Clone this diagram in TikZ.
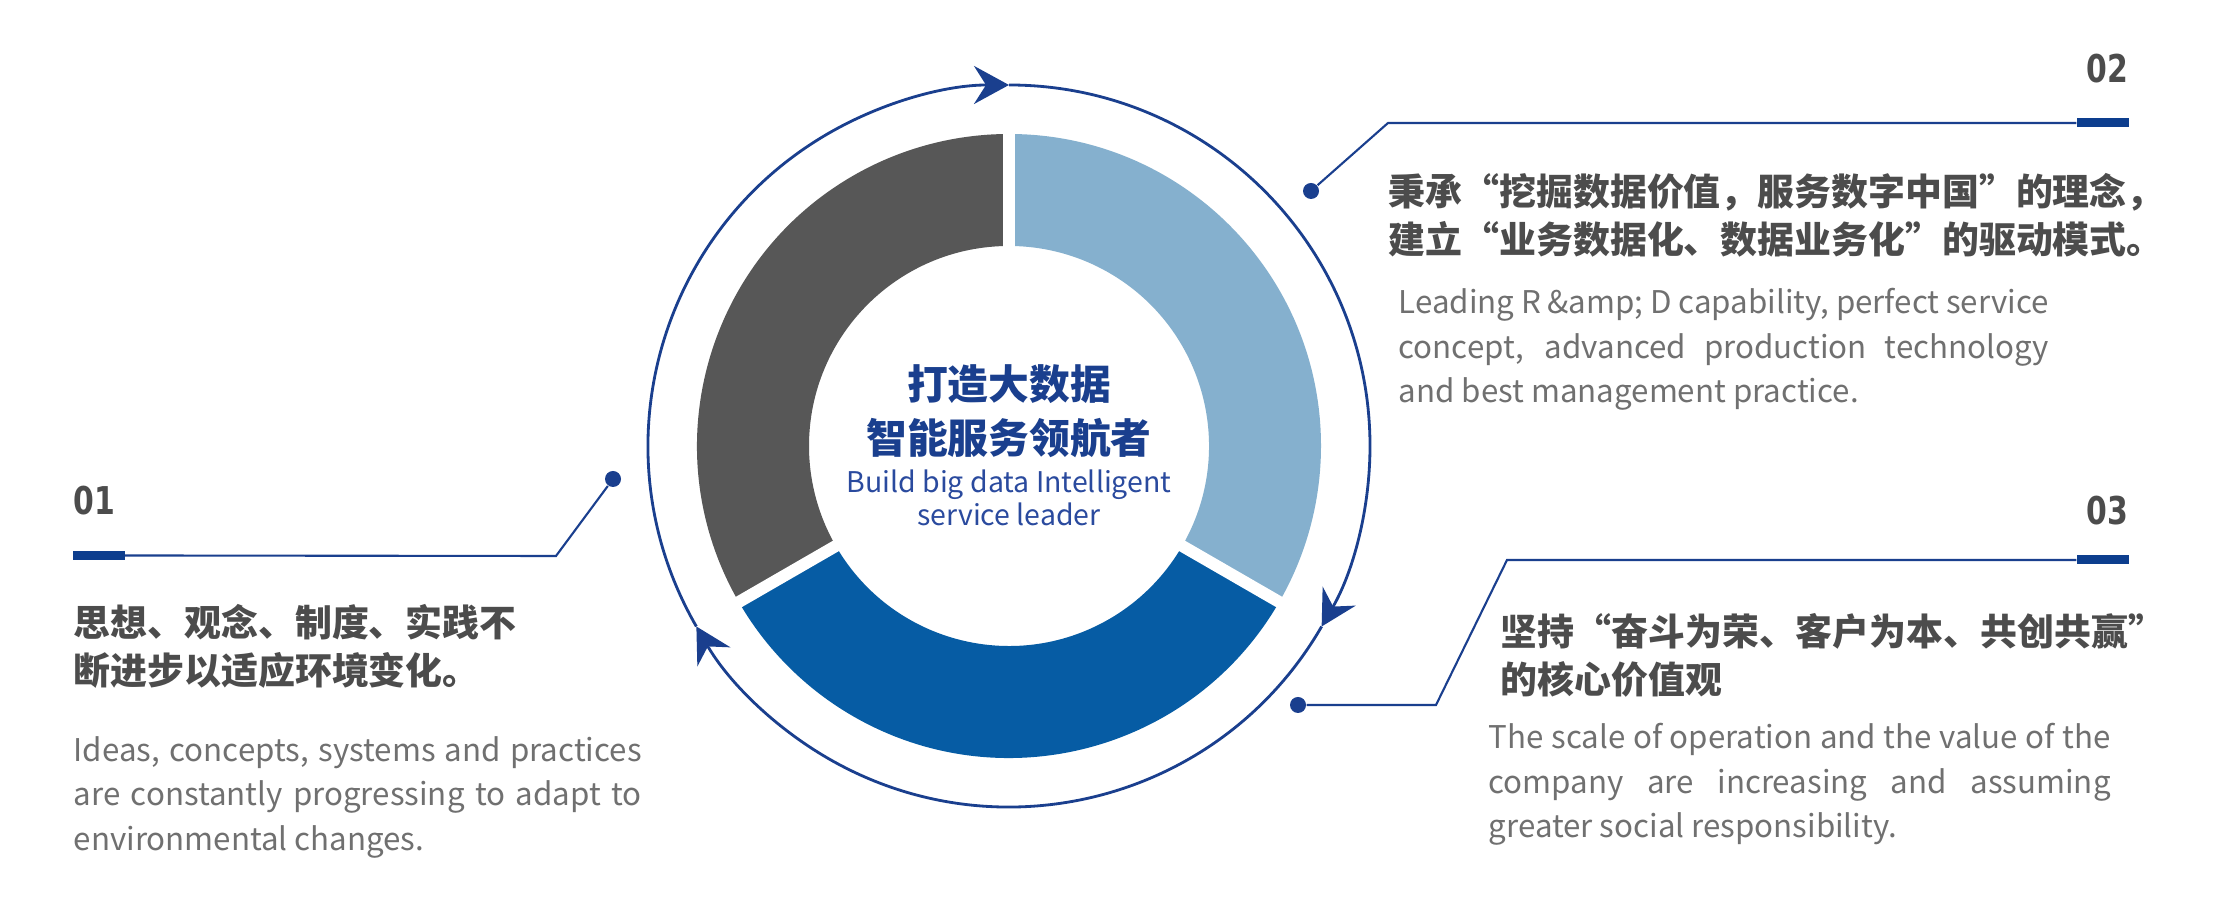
\documentclass[tikz,border=0pt]{standalone}
\usepackage{fontspec}
\setmainfont{Noto Sans CJK SC}
\newfontfamily\numfont{DejaVu Sans}[FakeStretch=0.78]
\usepackage{xcolor}
\usepackage{tikz}
\usetikzlibrary{arrows.meta, positioning}
\definecolor{kring}{HTML}{1A3F8E}
\definecolor{kbar}{HTML}{0D3E8E}
\definecolor{klight}{HTML}{85B0CE}
\definecolor{kdeep}{HTML}{065CA4}
\definecolor{kslate}{HTML}{575757}
\definecolor{khead}{HTML}{4C4C4C}
\definecolor{kbody}{HTML}{707070}
\definecolor{kcore}{HTML}{2A4A9E}
\hyphenpenalty=10000

\begin{document}
\begin{tikzpicture}[x=1cm, y=1cm,
  ringarc/.style={draw=kring, line width=0.8pt, -{Stealth[length=3.5mm, width=3.8mm, inset=1.2mm]}},
  callline/.style={draw=kring, line width=0.6pt},
  calldot/.style={circle, fill=kring, inner sep=0pt, minimum size=1.6mm},
  callbar/.style={fill=kbar, inner sep=0pt, minimum width=5.2mm, minimum height=0.9mm},
  numlbl/.style={font=\numfont\bfseries\fontsize{10.9pt}{11pt}\selectfont, text=khead, inner sep=0pt},
  headtxt/.style={font=\bfseries\fontsize{10.5pt}{13.7pt}\selectfont, text=khead, align=left, inner sep=0pt, anchor=north west},
  bodytxt/.style={font=\fontsize{8.9pt}{12.6pt}\selectfont, text=kbody, align=justify, inner sep=0pt, anchor=north west}]
\fill[white] (0,0) rectangle (22.14,9.10);
\useasboundingbox (0,0) rectangle (22.14,9.10);
% donut
\fill[kslate] (10.09,4.64) ++(210:3.12) arc (210:90:3.12) -- ++(90:-1.12) arc (90:210:2.00) -- cycle;
\fill[klight] (10.09,4.64) ++(90:3.12) arc (90:-30:3.12) -- ++(-30:-1.12) arc (-30:90:2.00) -- cycle;
\fill[kdeep] (10.09,4.64) ++(-30:3.12) arc (-30:-150:3.12) -- ++(-150:-1.12) arc (-150:-30:2.00) -- cycle;
\foreach \a in {90,210,330}
  \draw[white, line width=3.4pt] (10.09,4.64) ++(\a:1.9) -- ++(\a:1.35);
% ring
\draw[ringarc] (10.09,4.64) ++(210:3.61) arc (210:90:3.61);
\draw[ringarc] (10.09,4.64) ++(90:3.61) arc (90:-30:3.61);
\draw[ringarc] (10.09,4.64) ++(-30:3.61) arc (-30:-150:3.61);
% centre
\node[font=\bfseries\fontsize{11.6pt}{15.4pt}\selectfont, text=kring, align=center, inner sep=0pt]
  (core) at (10.09,4.99) {打造大数据\\智能服务领航者};
\node[font=\fontsize{8.1pt}{9.2pt}\selectfont, text=kcore, align=center, inner sep=0pt, below=1.1mm of core]
  (coreen) {Build big data Intelligent\\service leader};
% 01
\node[numlbl, anchor=west] (num1) at (0.73,4.09) {01};
\node[callbar] (bar1) at (0.985,3.545) {};
\coordinate (knee1) at (5.56,3.54);
\node[calldot] (dot1) at (6.13,4.31) {};
\draw[callline] (dot1) -- (knee1) -- (bar1.east);
\node[headtxt] (head1) at (0.73,3.06) {思想、观念、制度、实践不\\断进步以适应环境变化。};
\node[bodytxt, text width=5.68cm] (body1) at (0.73,1.74)
  {Ideas, concepts, systems and practices\linebreak are constantly progressing to adapt to\linebreak environmental changes.};
% 02
\node[numlbl, anchor=east] (num2) at (21.29,8.41) {02};
\node[callbar] (bar2) at (21.03,7.87) {};
\coordinate (knee2) at (13.88,7.87);
\node[calldot] (dot2) at (13.11,7.19) {};
\draw[callline] (dot2) -- (knee2) -- (bar2.west);
\node[headtxt] (head2) at (13.88,7.37) {秉承“挖掘数据价值，服务数字中国”的理念，\\建立“业务数据化、数据业务化”的驱动模式。};
\node[bodytxt, text width=6.50cm] (body2) at (13.98,6.22)
  {Leading R \&amp; D capability, perfect service\linebreak concept, advanced production technology\linebreak and best management practice.};
% 03
\node[numlbl, anchor=east] (num3) at (21.29,3.99) {03};
\node[callbar] (bar3) at (21.03,3.50) {};
\coordinate (knee3a) at (15.07,3.50);
\coordinate (knee3b) at (14.36,2.05);
\node[calldot] (dot3) at (12.98,2.05) {};
\draw[callline] (dot3) -- (knee3b) -- (knee3a) -- (bar3.west);
\node[headtxt] (head3) at (15.00,2.97) {坚持“奋斗为荣、客户为本、共创共赢”\\的核心价值观};
\node[bodytxt, text width=6.22cm] (body3) at (14.88,1.87)
  {The scale of operation and the value of the\linebreak company are increasing and assuming\linebreak greater social responsibility.};
\end{tikzpicture}
\end{document}
